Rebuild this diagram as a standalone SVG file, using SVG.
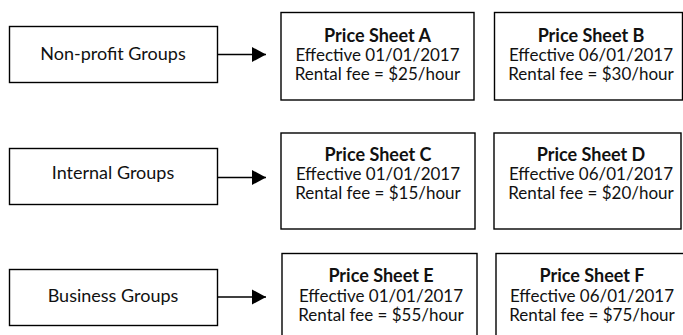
<svg xmlns="http://www.w3.org/2000/svg" width="683" height="335" viewBox="0 0 683 335">
<style>
.box{fill:#fff;stroke:#000;stroke-width:1.4}
.t{font-family:Lato,"Open Sans","Liberation Sans",sans-serif;font-size:17px;fill:#111;text-anchor:middle}
.l{font-size:18px}
.b{font-weight:bold;font-size:18px}
.c{stroke:#000;stroke-width:1.3;fill:none}
</style>
<defs>
<marker id="ah" markerUnits="userSpaceOnUse" markerWidth="15" markerHeight="16" refX="14" refY="8" orient="auto">
<path d="M0,0.5 L14,8 L0,15.5 z" fill="#000"/>
</marker>
</defs>
<rect width="683" height="335" fill="#fff"/>
<g id="nonprofit"><rect class="box" x="9.5" y="26.5" width="208" height="56"/><text class="t l" x="113" y="60">Non-profit Groups</text></g>
<g id="internal"><rect class="box" x="9.5" y="148.5" width="208" height="56"/><text class="t l" x="113" y="179">Internal Groups</text></g>
<g id="business"><rect class="box" x="9.5" y="269.5" width="208" height="56"/><text class="t l" x="113" y="302">Business Groups</text></g>
<g id="connectors">
<line class="c" x1="218" y1="54.5" x2="266" y2="54.5" marker-end="url(#ah)"/>
<line class="c" x1="218" y1="177.5" x2="266" y2="177.5" marker-end="url(#ah)"/>
<line class="c" x1="218" y1="297" x2="266" y2="297" marker-end="url(#ah)"/>
</g>
<g id="sheetA"><rect class="box" x="281" y="12.5" width="193" height="87.5"/>
<text class="t"><tspan class="b" x="377.5" y="42">Price Sheet A</tspan><tspan x="377.5" y="61">Effective 01/01/2017</tspan><tspan x="377.5" y="80">Rental fee = $25/hour</tspan></text></g>
<g id="sheetB"><rect class="box" x="494.5" y="12.5" width="188" height="87.5"/>
<text class="t"><tspan class="b" x="591" y="42">Price Sheet B</tspan><tspan x="591" y="61">Effective 06/01/2017</tspan><tspan x="591" y="80">Rental fee = $30/hour</tspan></text></g>
<g id="sheetC"><rect class="box" x="281" y="133" width="194" height="96"/>
<text class="t"><tspan class="b" x="378" y="161">Price Sheet C</tspan><tspan x="378" y="180">Effective 01/01/2017</tspan><tspan x="378" y="199">Rental fee = $15/hour</tspan></text></g>
<g id="sheetD"><rect class="box" x="494" y="133" width="187" height="96"/>
<text class="t"><tspan class="b" x="591" y="161">Price Sheet D</tspan><tspan x="591" y="180">Effective 06/01/2017</tspan><tspan x="591" y="199">Rental fee = $20/hour</tspan></text></g>
<g id="sheetE"><rect class="box" x="282" y="253.5" width="195" height="90"/>
<text class="t"><tspan class="b" x="381" y="282">Price Sheet E</tspan><tspan x="381" y="302">Effective 01/01/2017</tspan><tspan x="381" y="321">Rental fee = $55/hour</tspan></text></g>
<g id="sheetF"><rect class="box" x="496" y="253.5" width="200" height="90"/>
<text class="t"><tspan class="b" x="592" y="282">Price Sheet F</tspan><tspan x="592" y="302">Effective 06/01/2017</tspan><tspan x="592" y="321">Rental fee = $75/hour</tspan></text></g>
</svg>
